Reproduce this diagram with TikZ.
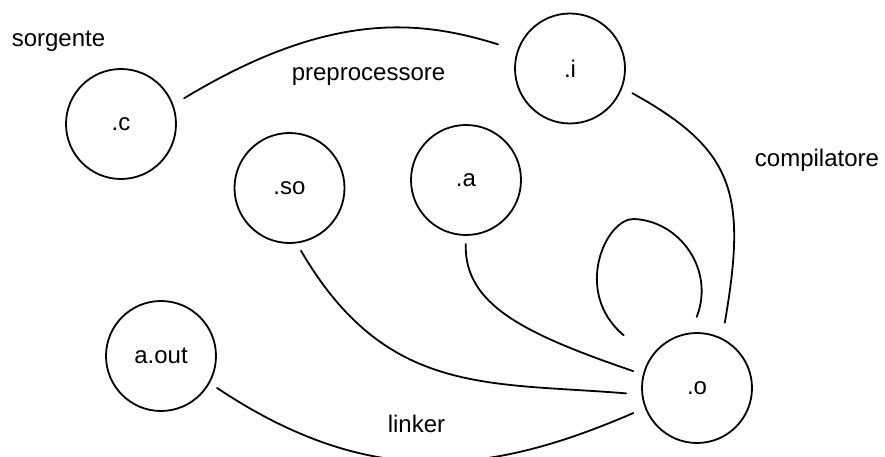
\documentclass[tikz,border=0pt]{standalone}
\usepackage{fontspec}
\setmainfont{Liberation Sans}
\begin{document}
\begin{tikzpicture}[x=1pt,y=-1pt,
  line width=1.8pt,
  every node/.style={font=\fontsize{24}{28}\selectfont},
  file/.style={circle,draw,minimum size=110pt,inner sep=0pt,outer sep=0pt},
  label text/.style={anchor=base,inner sep=0pt},
  link/.style={line cap=round}]
\useasboundingbox (0,0) rectangle (885,457);
\clip (0,0) rectangle (885,457);

% files
\node[file] (c)    at (121,124)   {.c};
\node[file] (i)    at (570,68.5)  {.i};
\node[file] (so)   at (289.5,188) {.so};
\node[file] (a)    at (466,180)   {.a};
\node[file] (aout) at (161,356)   {a.out};
\node[file] (o)    at (697,388)   {.o};

% stage names
\node[label text] (tsorg) at (58.5,47)  {sorgente};
\node[label text] (tpre)  at (368.5,81) {preprocessore};
\node[label text] (tcomp) at (817,167)  {compilatore};
\node[label text] (tlink) at (416.5,432) {linker};

% build steps
\draw[link,shorten <=13.4pt,shorten >=21pt]
  (c.20.6) .. controls (330,10) and (420,20) .. (i.161.2);
\draw[link,shorten <=12.2pt,shorten >=16.6pt]
  (i.-20.5) .. controls (735,150) and (747,194) .. (o.63.4);
% loop on the object file
\draw[link,shorten <=35.4pt,shorten >=17.7pt]
  (o.147.2) .. controls (572,292) and (606,218) .. (634,219)
            .. controls (680,221) and (715,270) .. (o.97.9);
\draw[link,shorten <=9pt,shorten >=11pt]
  (a.-90.9) .. controls (464,305) and (525,334) .. (o.166);
\draw[link,shorten <=9.4pt,shorten >=16.4pt]
  (so.-83.3) .. controls (386,396) and (487,382) .. (o.-173.6);
\draw[link,shorten <=9.5pt,shorten >=13.4pt]
  (aout.-29.7) .. controls (370,490) and (490,475) .. (o.-159.4);
\end{tikzpicture}
\end{document}
